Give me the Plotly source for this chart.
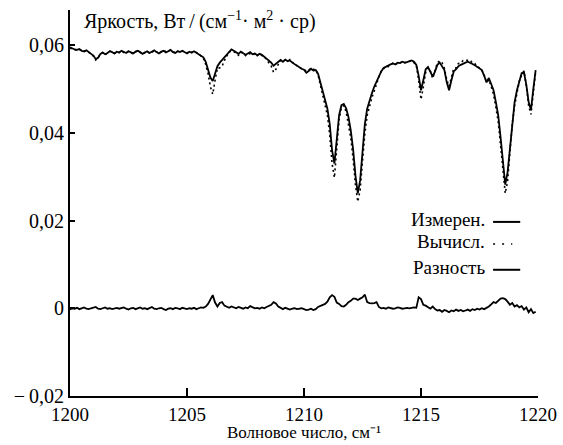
import plotly.graph_objects as go

# wavenumber grid, cm^-1 (sampling of the read-off values)
wavenumber = [round(1200 + 0.1 * i, 1) for i in range(200)]

measured = [
    0.0595, 0.0592, 0.0590, 0.0589, 0.0591, 0.0587, 0.0586, 0.0588, 0.0583, 0.0580,
    0.0576, 0.0568, 0.0571, 0.0580, 0.0583, 0.0579, 0.0582, 0.0586, 0.0584, 0.0581,
    0.0585, 0.0583, 0.0587, 0.0584, 0.0582, 0.0586, 0.0583, 0.0581, 0.0585, 0.0587,
    0.0584, 0.0580, 0.0583, 0.0586, 0.0582, 0.0585, 0.0588, 0.0584, 0.0581, 0.0585,
    0.0587, 0.0583, 0.0586, 0.0589, 0.0584, 0.0582, 0.0586, 0.0584, 0.0587, 0.0583,
    0.0581, 0.0585, 0.0583, 0.0586, 0.0582, 0.0580, 0.0576, 0.0572, 0.0562, 0.0545,
    0.0526, 0.0518, 0.0533, 0.0552, 0.0560, 0.0566, 0.0573, 0.0580, 0.0586, 0.0590,
    0.0587, 0.0583, 0.0580, 0.0585, 0.0582, 0.0578, 0.0581, 0.0584, 0.0579, 0.0581,
    0.0577, 0.0580, 0.0578, 0.0574, 0.0570, 0.0566, 0.0560, 0.0553, 0.0557, 0.0563,
    0.0566, 0.0562, 0.0567, 0.0563, 0.0565, 0.0560, 0.0556, 0.0552, 0.0549, 0.0546,
    0.0544, 0.0537, 0.0541, 0.0546, 0.0542, 0.0543, 0.0535, 0.0515, 0.0497, 0.0475,
    0.0455, 0.0420, 0.0360, 0.0330, 0.0380, 0.0440, 0.0463, 0.0466, 0.0456, 0.0436,
    0.0405, 0.0362, 0.0302, 0.0262, 0.0292, 0.0360, 0.0420, 0.0455, 0.0475, 0.0490,
    0.0505, 0.0518, 0.0530, 0.0540, 0.0548, 0.0551, 0.0553, 0.0556, 0.0558, 0.0556,
    0.0560, 0.0559, 0.0562, 0.0560, 0.0561, 0.0563, 0.0565, 0.0562, 0.0555, 0.0530,
    0.0497, 0.0520, 0.0545, 0.0550, 0.0540, 0.0528, 0.0540, 0.0555, 0.0560, 0.0552,
    0.0543, 0.0515, 0.0497, 0.0520, 0.0540, 0.0545, 0.0552, 0.0555, 0.0558, 0.0560,
    0.0562, 0.0560, 0.0557, 0.0554, 0.0550, 0.0545, 0.0543, 0.0530, 0.0515, 0.0525,
    0.0512, 0.0497, 0.0470, 0.0440, 0.0390, 0.0330, 0.0282, 0.0310, 0.0368, 0.0430,
    0.0470, 0.0497, 0.0520, 0.0536, 0.0538, 0.0510, 0.0470, 0.0452, 0.0500, 0.0543,
]

calculated = [
    0.0593, 0.0591, 0.0590, 0.0588, 0.0590, 0.0587, 0.0585, 0.0587, 0.0584, 0.0580,
    0.0575, 0.0566, 0.0571, 0.0580, 0.0583, 0.0578, 0.0582, 0.0586, 0.0585, 0.0581,
    0.0584, 0.0583, 0.0587, 0.0583, 0.0582, 0.0586, 0.0583, 0.0580, 0.0585, 0.0587,
    0.0583, 0.0580, 0.0583, 0.0586, 0.0581, 0.0583, 0.0588, 0.0585, 0.0581, 0.0584,
    0.0588, 0.0585, 0.0586, 0.0589, 0.0585, 0.0582, 0.0586, 0.0585, 0.0587, 0.0583,
    0.0582, 0.0585, 0.0583, 0.0585, 0.0583, 0.0580, 0.0575, 0.0570, 0.0556, 0.0535,
    0.0505, 0.0488, 0.0520, 0.0548, 0.0548, 0.0552, 0.0565, 0.0577, 0.0585, 0.0586,
    0.0585, 0.0583, 0.0577, 0.0584, 0.0582, 0.0576, 0.0581, 0.0580, 0.0577, 0.0581,
    0.0576, 0.0580, 0.0576, 0.0574, 0.0567, 0.0558, 0.0552, 0.0538, 0.0545, 0.0556,
    0.0565, 0.0563, 0.0566, 0.0563, 0.0567, 0.0561, 0.0556, 0.0553, 0.0549, 0.0546,
    0.0545, 0.0540, 0.0543, 0.0547, 0.0545, 0.0544, 0.0532, 0.0510, 0.0490, 0.0465,
    0.0440, 0.0395, 0.0330, 0.0298, 0.0360, 0.0430, 0.0458, 0.0462, 0.0448, 0.0422,
    0.0388, 0.0340, 0.0280, 0.0243, 0.0270, 0.0335, 0.0398, 0.0440, 0.0462, 0.0480,
    0.0495, 0.0512, 0.0527, 0.0540, 0.0547, 0.0552, 0.0551, 0.0556, 0.0559, 0.0556,
    0.0558, 0.0558, 0.0563, 0.0560, 0.0560, 0.0563, 0.0564, 0.0560, 0.0554, 0.0520,
    0.0476, 0.0505, 0.0538, 0.0548, 0.0541, 0.0524, 0.0542, 0.0560, 0.0564, 0.0560,
    0.0547, 0.0521, 0.0506, 0.0525, 0.0547, 0.0548, 0.0558, 0.0559, 0.0565, 0.0565,
    0.0565, 0.0566, 0.0559, 0.0558, 0.0551, 0.0548, 0.0543, 0.0532, 0.0514, 0.0521,
    0.0505, 0.0488, 0.0458, 0.0425, 0.0372, 0.0310, 0.0262, 0.0290, 0.0352, 0.0420,
    0.0462, 0.0490, 0.0518, 0.0531, 0.0541, 0.0508, 0.0462, 0.0442, 0.0490, 0.0540,
]

difference = [
    -0.0003, 0.0000, -0.0001, 0.0001, -0.0002, 0.0000, 0.0002, -0.0001, -0.0002, 0.0000,
    0.0001, 0.0003, -0.0001, -0.0002, 0.0000, 0.0002, -0.0001, 0.0000, -0.0002, -0.0001,
    0.0001, -0.0001, 0.0000, 0.0002, -0.0001, -0.0003, 0.0000, 0.0001, -0.0002, 0.0000,
    0.0002, -0.0001, 0.0000, -0.0002, 0.0001, 0.0003, -0.0001, -0.0002, 0.0000, 0.0001,
    -0.0002, -0.0004, -0.0001, 0.0000, -0.0002, 0.0001, 0.0000, -0.0002, 0.0001, 0.0000,
    -0.0002, 0.0000, -0.0001, 0.0001, -0.0002, 0.0000, 0.0002, 0.0001, 0.0004, 0.0010,
    0.0021, 0.0030, 0.0013, 0.0004, 0.0012, 0.0014, 0.0006, 0.0003, 0.0001, 0.0004,
    0.0002, 0.0000, 0.0003, 0.0001, -0.0001, 0.0002, 0.0000, 0.0005, 0.0002, 0.0000,
    0.0001, -0.0001, 0.0002, 0.0000, 0.0003, 0.0006, 0.0008, 0.0014, 0.0011, 0.0004,
    0.0000, -0.0002, 0.0001, -0.0001, -0.0003, -0.0001, 0.0000, -0.0002, -0.0001, 0.0000,
    -0.0002, -0.0004, -0.0003, -0.0001, -0.0004, -0.0002, 0.0003, 0.0005, 0.0007, 0.0010,
    0.0015, 0.0025, 0.0030, 0.0026, 0.0013, 0.0010, 0.0005, 0.0004, 0.0008, 0.0014,
    0.0017, 0.0022, 0.0022, 0.0019, 0.0022, 0.0025, 0.0031, 0.0014, 0.0012, 0.0011,
    0.0012, 0.0014, 0.0003, 0.0000, 0.0001, -0.0001, 0.0002, 0.0000, -0.0001, 0.0000,
    0.0002, 0.0001, -0.0001, 0.0000, 0.0001, 0.0000, 0.0001, 0.0002, 0.0001, 0.0025,
    0.0021, 0.0008, 0.0006, 0.0002, -0.0001, 0.0004, -0.0002, -0.0005, -0.0004, -0.0008,
    -0.0004, -0.0006, -0.0009, -0.0005, -0.0007, -0.0003, -0.0006, -0.0004, -0.0007, -0.0005,
    -0.0003, -0.0006, -0.0002, -0.0004, -0.0001, -0.0003, 0.0000, -0.0002, 0.0001, 0.0004,
    0.0009, 0.0014, 0.0012, 0.0017, 0.0022, 0.0023, 0.0021, 0.0015, 0.0008, 0.0012,
    0.0004, 0.0007, 0.0002, 0.0005, -0.0003, 0.0002, -0.0009, -0.0002, -0.0011, -0.0008,
]

x_ticks = [1200, 1205, 1210, 1215, 1220]
y_ticks = [-0.02, 0, 0.02, 0.04, 0.06]
y_tick_labels = ["\u2212\u20090,02", "0", "0,02", "0,04", "0,06"]
legend_labels = ["Измерен.", "Вычисл.", "Разность"]

FONT = "Liberation Serif"

fig = go.Figure()
fig.add_trace(go.Scatter(x=wavenumber, y=measured, mode="lines",
                         line=dict(color="black", width=1.8), name=legend_labels[0]))
fig.add_trace(go.Scatter(x=wavenumber, y=calculated, mode="lines",
                         line=dict(color="black", width=1.6, dash="2px,3px"), name=legend_labels[1]))
fig.add_trace(go.Scatter(x=wavenumber, y=difference, mode="lines",
                         line=dict(color="black", width=1.8), name=legend_labels[2]))

fig.update_layout(
    width=563, height=445,
    margin=dict(l=70, r=25, t=10, b=49),
    paper_bgcolor="white", plot_bgcolor="white",
    showlegend=False,
    font=dict(family=FONT, size=20, color="black"),
)
fig.update_xaxes(range=[1200, 1220], tickvals=x_ticks, ticktext=[str(v) for v in x_ticks],
                 ticks="inside", ticklen=8, tickwidth=1.5, tickcolor="black",
                 showline=True, linecolor="black", linewidth=2, showgrid=False,
                 zeroline=False, tickfont=dict(family=FONT, size=19), automargin=False)
fig.update_yaxes(range=[-0.02, 0.068], tickvals=y_ticks, ticktext=y_tick_labels,
                 ticks="inside", ticklen=5, tickwidth=1.5, tickcolor="black",
                 showline=True, linecolor="black", linewidth=2, showgrid=False,
                 zeroline=False, tickfont=dict(family=FONT, size=20), automargin=False)

fig.add_annotation(xref="paper", yref="paper", x=0.026, y=0.972, xanchor="left", yanchor="middle",
                   text="Яркость, Вт\u2009/\u2009(см<sup>\u22121</sup>· м<sup>2</sup> · ср)",
                   showarrow=False, font=dict(family=FONT, size=20))
fig.add_annotation(xref="paper", yref="paper", x=0.5, y=-0.1244, xanchor="center", yanchor="bottom",
                   text="Волновое число, см\u207B\u00B9",
                   showarrow=False, font=dict(family=FONT, size=17))

legend_y = [0.456, 0.399, 0.332]
legend_dash = ["solid", "2px,7px", "solid"]
legend_x1 = [0.962, 0.945, 0.962]
for label, ly, dash, x1 in zip(legend_labels, legend_y, legend_dash, legend_x1):
    fig.add_annotation(xref="paper", yref="paper", x=0.891, y=ly, xanchor="right", yanchor="middle",
                       text=label, showarrow=False, font=dict(family=FONT, size=19))
    fig.add_shape(type="line", xref="paper", yref="paper", x0=0.904, x1=x1, y0=ly - 0.005, y1=ly - 0.005,
                  line=dict(color="black", width=2 if dash == "solid" else 1.5, dash=dash))

fig.write_html("out.html", post_script="document.body.style.margin='0';",
               config={"displayModeBar": False})
